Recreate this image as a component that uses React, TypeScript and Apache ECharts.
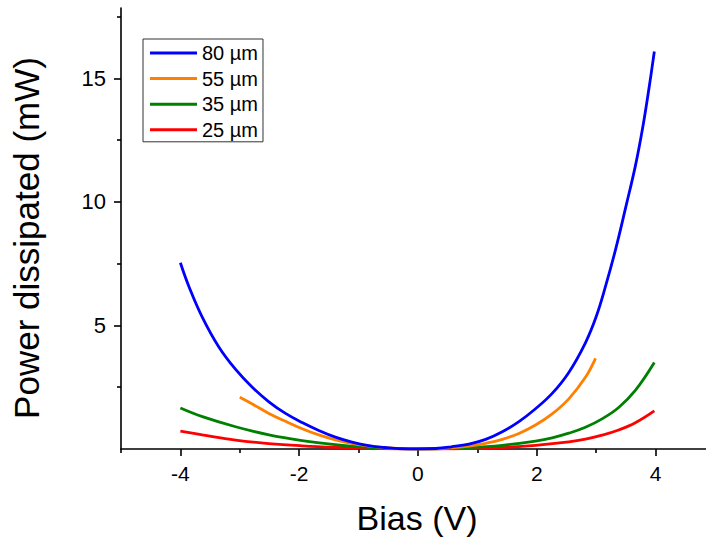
import React, { useEffect, useRef } from "react";
import * as echarts from "echarts";

const seriesNames = ["80 µm", "55 µm", "35 µm", "25 µm"];
const seriesColors = ["#0000FF", "#FF8000", "#008000", "#FF0000"];

const x80 = [-4.0, -3.86, -3.63, -3.35, -3.07, -2.79, -2.51, -2.23, -1.95, -1.67, -1.39, -1.11, -0.83, -0.55, -0.27, 0, 0.3, 0.56, 0.86, 1.14, 1.42, 1.7, 1.98, 2.26, 2.54, 2.82, 3.0, 3.16, 3.33, 3.5, 3.66, 3.78, 3.89, 3.98];
const y80 = [7.54, 6.6, 5.33, 4.12, 3.22, 2.5, 1.91, 1.44, 1.07, 0.75, 0.48, 0.28, 0.14, 0.06, 0.01, 0, 0.02, 0.09, 0.2, 0.39, 0.7, 1.11, 1.63, 2.25, 3.1, 4.3, 5.35, 6.6, 8.1, 9.8, 11.45, 12.95, 14.6, 16.09];

const x55 = [-3.0, -2.79, -2.51, -2.23, -1.95, -1.67, -1.39, -1.05, -0.55, 0, 0.3, 0.56, 0.86, 1.14, 1.42, 1.7, 1.98, 2.26, 2.54, 2.82, 2.99];
const y55 = [2.09, 1.82, 1.44, 1.12, 0.82, 0.57, 0.37, 0.2, 0.05, 0, 0.01, 0.05, 0.12, 0.23, 0.39, 0.63, 0.97, 1.42, 2.03, 2.9, 3.67];

const x35 = [-4.0, -3.63, -3.07, -2.51, -1.95, -1.39, -0.83, 0, 0.86, 1.42, 1.98, 2.26, 2.54, 2.82, 3.1, 3.38, 3.66, 3.98];
const y35 = [1.66, 1.31, 0.9, 0.57, 0.34, 0.18, 0.07, 0, 0.06, 0.15, 0.32, 0.45, 0.64, 0.88, 1.22, 1.68, 2.37, 3.5];

const x25 = [-4.0, -3.63, -3.07, -2.51, -1.95, -1.39, -0.8, 0, 0.86, 1.42, 1.98, 2.54, 2.82, 3.1, 3.38, 3.66, 3.98];
const y25 = [0.72, 0.57, 0.36, 0.22, 0.13, 0.07, 0.03, 0, 0.02, 0.06, 0.15, 0.29, 0.4, 0.56, 0.77, 1.06, 1.54];

const xMajorTicks = [-4, -2, 0, 2, 4];
const xMinorTicks = [-5, -3, -1, 1, 3];
const yMajorTicks = [5, 10, 15];
const yMinorTicks = [2.5, 7.5, 12.5, 17.5];

const xTitle = "Bias (V)";
const yTitle = "Power dissipated (mW)";

const FONT = "'Liberation Sans', Arial, sans-serif";

function zip(xs: number[], ys: number[]) {
  return xs.map((x, i) => [x, ys[i]]);
}

export default function App() {
  const ref = useRef<HTMLDivElement>(null);
  useEffect(() => {
    if (!ref.current) return;
    const chart = echarts.init(ref.current, undefined, { renderer: "svg" });
    const allX = [x80, x55, x35, x25];
    const allY = [y80, y55, y35, y25];
    const axisLine = { show: true, onZero: false, lineStyle: { color: "#000", width: 1.6 } };
    chart.setOption({
      animation: false,
      backgroundColor: "#fff",
      grid: { left: 121, right: 0, top: 8, bottom: 93, containLabel: false },
      legend: {
        orient: "vertical",
        left: 143,
        top: 39,
        padding: [4, 5, 2, 7],
        icon: "rect",
        itemWidth: 47,
        itemHeight: 3,
        itemGap: 5.6,
        borderColor: "#333",
        borderWidth: 1,
        textStyle: { fontSize: 20, lineHeight: 20, fontFamily: FONT, color: "#000" },
        data: seriesNames,
      },
      xAxis: [
        {
          type: "value",
          min: -5,
          max: 4.85,
          position: "bottom",
          axisLine,
          splitLine: { show: false },
          axisTick: { show: true, inside: false, length: 7, customValues: xMajorTicks, lineStyle: { color: "#000", width: 1.6 } },
          axisLabel: { show: true, customValues: xMajorTicks, margin: 14, fontSize: 21, fontFamily: FONT, color: "#000", formatter: (v: number) => String(v) },
        },
        {
          type: "value",
          min: -5,
          max: 4.85,
          position: "bottom",
          axisLine: { show: false, onZero: false },
          splitLine: { show: false },
          axisTick: { show: true, inside: false, length: 4, customValues: xMinorTicks, lineStyle: { color: "#000", width: 1.6 } },
          axisLabel: { show: false },
        },
      ],
      yAxis: [
        {
          type: "value",
          min: 0,
          max: 17.85,
          position: "left",
          axisLine,
          splitLine: { show: false },
          axisTick: { show: true, inside: false, length: 7, customValues: yMajorTicks, lineStyle: { color: "#000", width: 1.6 } },
          axisLabel: { show: true, customValues: yMajorTicks, margin: 15, fontSize: 22, fontFamily: FONT, color: "#000", formatter: (v: number) => String(v) },
        },
        {
          type: "value",
          min: 0,
          max: 17.85,
          position: "left",
          axisLine: { show: false, onZero: false },
          splitLine: { show: false },
          axisTick: { show: true, inside: false, length: 4, customValues: yMinorTicks, lineStyle: { color: "#000", width: 1.6 } },
          axisLabel: { show: false },
        },
      ],
      graphic: [
        {
          type: "text",
          x: 417,
          y: 518,
          style: { text: xTitle, font: `34px ${FONT}`, fill: "#000", align: "center", verticalAlign: "middle" },
        },
        {
          type: "text",
          x: 26,
          y: 238,
          rotation: Math.PI / 2,
          style: { text: yTitle, font: `35px ${FONT}`, fill: "#000", align: "center", verticalAlign: "middle" },
        },
      ],
      series: seriesNames.map((name, i) => ({
        name,
        type: "line",
        xAxisIndex: 0,
        yAxisIndex: 0,
        data: zip(allX[i], allY[i]),
        showSymbol: false,
        symbol: "none",
        smooth: 0.4,
        lineStyle: { color: seriesColors[i], width: 2.8 },
        itemStyle: { color: seriesColors[i] },
        z: 10 - i,
      })),
    });
    return () => chart.dispose();
  }, []);
  return <div ref={ref} style={{ position: "absolute", left: 0, top: 0, width: 706, height: 542 }} />;
}
